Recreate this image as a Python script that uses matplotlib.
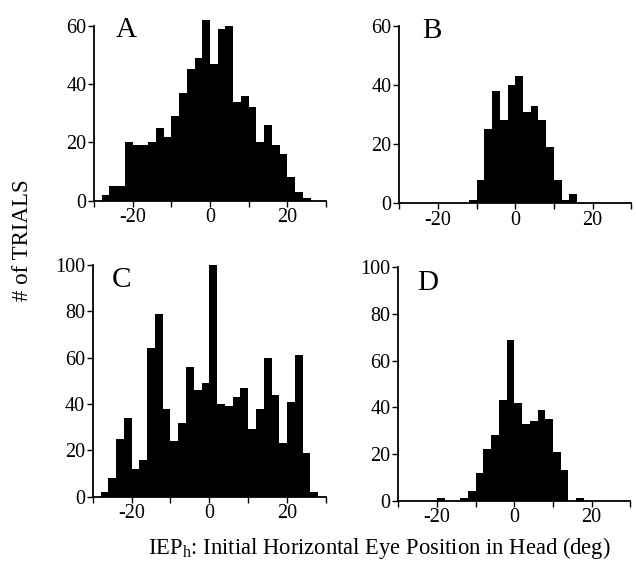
import numpy as np
import matplotlib
matplotlib.use('Agg')
from matplotlib import pyplot as plt

plt.rcParams['font.family'] = ['Liberation Serif', 'DejaVu Serif']
plt.rcParams['mathtext.fontset'] = 'custom'
plt.rcParams['mathtext.rm'] = 'Liberation Serif'
plt.rcParams['axes.unicode_minus'] = False

# 2-deg bins, first left edge for each panel
start_a = -28
counts_a = [2, 5, 5, 20, 19, 19, 20, 25, 22, 29, 37, 45, 49, 62,
            47, 59, 60, 34, 36, 32, 20, 26, 19, 16, 8, 3, 1]
start_b = -12
counts_b = [1, 8, 25, 38, 28, 40, 43, 31, 33, 28, 19, 8, 1, 3]
start_c = -28
counts_c = [2, 8, 25, 34, 12, 16, 64, 79, 38, 24, 32, 56, 46, 49,
            100, 40, 39, 43, 47, 29, 38, 60, 44, 23, 41, 61, 19, 2]
start_d = -20
counts_d = [1, 0, 0, 1, 4, 12, 22, 28, 43, 69,
            42, 33, 34, 39, 35, 21, 13, 0, 1]
bin_width = 2

letters = ['A', 'B', 'C', 'D']
yticks_top = [0, 20, 40, 60]
yticks_bottom = [0, 20, 40, 60, 80, 100]

fig = plt.figure(figsize=(6.36, 5.63), dpi=100)

panels = [
    # rect, start, counts, ylim, yticks, letter position
    ([0.1478, 0.6435, 0.3648, 0.3238], start_a, counts_a, 62.5, yticks_top, (-24.5, 56)),
    ([0.6278, 0.6389, 0.3648, 0.3180], start_b, counts_b, 60.5, yticks_top, (-24.1, 55.7)),
    ([0.1458, 0.1178, 0.3668, 0.4157], start_c, counts_c, 101, yticks_bottom, (-25, 90.6)),
    ([0.6263, 0.1107, 0.3648, 0.4187], start_d, counts_d, 101, yticks_bottom, (-25, 90.3)),
]

for (rect, start, counts, ytop, yticks, pos), letter in zip(panels, letters):
    ax = fig.add_axes(rect)
    edges = start + bin_width * np.arange(len(counts))
    ax.bar(edges, counts, width=bin_width, align='edge', color='black', linewidth=0)
    ax.set_xlim(-30, 30)
    ax.set_ylim(0, ytop)
    ax.spines['top'].set_visible(False)
    ax.spines['right'].set_visible(False)
    ax.spines['left'].set_linewidth(1.3)
    ax.spines['bottom'].set_linewidth(1.3)
    ax.spines['left'].set_bounds(0, yticks[-1])
    ax.set_xticks([-20, 0, 20])
    ax.set_xticks([-30, -10, 10, 30], minor=True)
    ax.set_yticks(yticks)
    ax.tick_params(axis='both', which='both', direction='out', labelsize=14.5,
                   width=1.0, pad=1.5)
    ax.tick_params(axis='both', which='major', length=4)
    ax.tick_params(axis='x', which='minor', length=4)
    ax.text(pos[0], pos[1], letter, fontsize=21, va='baseline', ha='left')

fig.text(0.035, 0.573, '# of TRIALS', rotation=90, ha='center', va='center', fontsize=16.5)
fig.text(0.596, 0.027, 'IEP$_\\mathrm{h}$: Initial Horizontal Eye Position in Head (deg)',
         ha='center', va='center', fontsize=16.3)

fig.savefig('out.png', dpi=100)
